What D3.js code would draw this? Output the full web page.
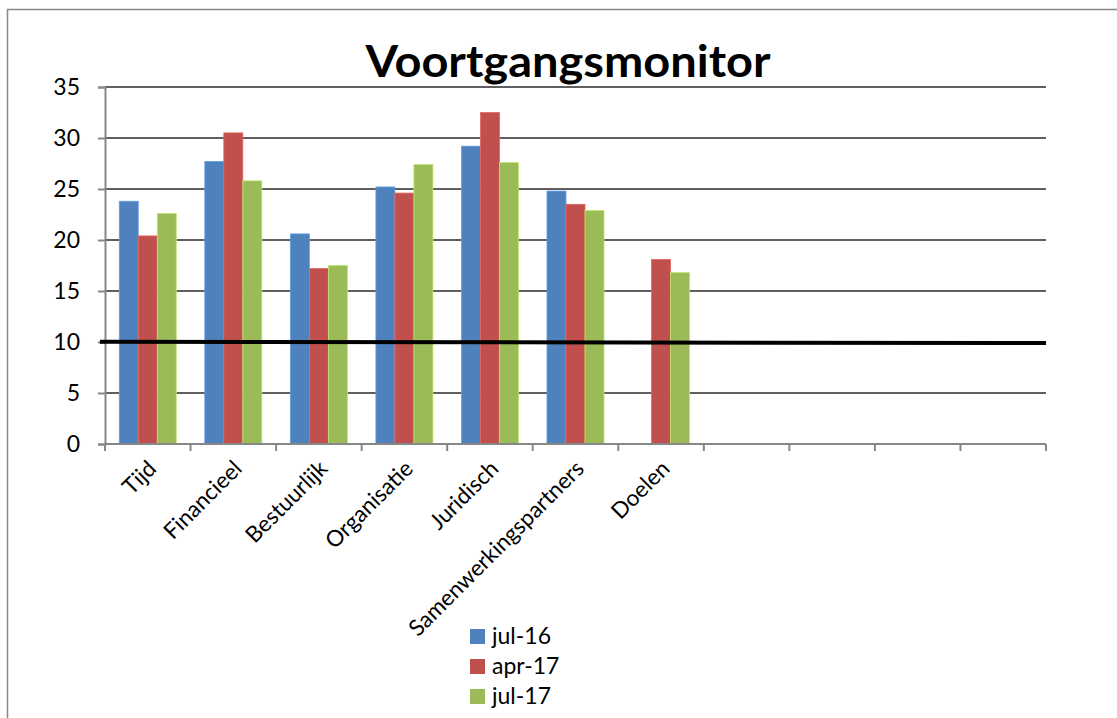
<html lang="nl">
<head>
    <meta charset="utf-8">
    <title>Voortgangsmonitor</title>
    <script src="https://cdn.jsdelivr.net/npm/d3@7"></script>
    <style>
        body { margin: 0; background: #fff; }
        text { font-family: Lato, "Open Sans", sans-serif; fill: #000; }
    </style>
</head>
<body>
<script>
    // categories (last four slots are empty in the original sheet)
    var categories = ["Tijd", "Financieel", "Bestuurlijk", "Organisatie", "Juridisch",
                      "Samenwerkingspartners", "Doelen", "", "", "", ""];
    var seriesNames = ["jul-16", "apr-17", "jul-17"];
    var jul16 = [23.8, 27.7, 20.6, 25.2, 29.2, 24.8, null];
    var apr17 = [20.4, 30.5, 17.2, 24.6, 32.5, 23.5, 18.1];
    var jul17 = [22.6, 25.8, 17.5, 27.4, 27.6, 22.9, 16.8];
    var yTicks = [0, 5, 10, 15, 20, 25, 30, 35];
    var norm = [10.02, 9.9];   // hand-drawn norm line, left and right end

    var colors = ["#4F81BD", "#C0504D", "#9BBB59"];
    var w = 1117, h = 718;
    var plotLeft = 105, plotRight = 1046, plotTop = 87, plotBottom = 444;

    var svg = d3.select("body").append("svg")
            .attr("width", w)
            .attr("height", h);

    // chart border
    svg.append("rect")
            .attr("x", 7.5).attr("y", 9.5)
            .attr("width", 1130).attr("height", 730)
            .attr("fill", "none")
            .attr("stroke", "#888")
            .attr("stroke-width", 1.5);

    var x = d3.scaleBand().domain(d3.range(categories.length)).range([plotLeft, plotRight]);
    var xInner = d3.scaleBand().domain(d3.range(3)).range([0, x.bandwidth()]).paddingOuter(0.75);
    var y = d3.scaleLinear().domain([0, 35]).range([plotBottom, plotTop]);

    // gridlines
    svg.append("g").selectAll("line")
            .data(yTicks.filter(function(d){ return d > 0; }))
            .enter().append("line")
            .attr("x1", plotLeft).attr("x2", plotRight)
            .attr("y1", function(d){ return y(d); })
            .attr("y2", function(d){ return y(d); })
            .attr("stroke", "#5f5f5f")
            .attr("stroke-width", 2);

    // bars
    var series = [jul16, apr17, jul17];
    series.forEach(function(vals, s) {
        svg.append("g").selectAll("rect")
                .data(vals)
                .enter().append("rect")
                .filter(function(d){ return d !== null; })
                .attr("x", function(d, i){ return x(i) + xInner(s); })
                .attr("y", function(d){ return y(d); })
                .attr("width", xInner.bandwidth())
                .attr("height", function(d){ return plotBottom - y(d); })
                .attr("fill", colors[s])
                .attr("stroke", d3.color(colors[s]).brighter(0.6))
                .attr("stroke-width", 0.8);
    });

    // y axis
    var yAxis = d3.axisLeft(y).tickValues(yTicks).tickSize(7).tickPadding(18);
    var gy = svg.append("g").attr("transform", "translate(" + plotLeft + ",0)").call(yAxis);
    gy.select(".domain").attr("stroke", "#878787").attr("stroke-width", 2);
    gy.selectAll(".tick line").attr("stroke", "#878787").attr("stroke-width", 2);
    gy.selectAll("text").attr("font-size", "23px").attr("fill", "#000")
            .style("font-family", "Lato, sans-serif");

    // x axis
    var gx = svg.append("g").attr("transform", "translate(0," + plotBottom + ")");
    gx.append("line")
            .attr("x1", plotLeft).attr("x2", plotRight)
            .attr("stroke", "#878787").attr("stroke-width", 2);
    gx.selectAll("line.tk")
            .data(d3.range(categories.length + 1))
            .enter().append("line")
            .attr("class", "tk")
            .attr("x1", function(i){ return plotLeft + i * x.step(); })
            .attr("x2", function(i){ return plotLeft + i * x.step(); })
            .attr("y1", 0).attr("y2", 7)
            .attr("stroke", "#878787").attr("stroke-width", 2);
    gx.selectAll("text")
            .data(categories)
            .enter().append("text")
            .text(function(d){ return d; })
            .attr("text-anchor", "end")
            .attr("font-size", "22.5px")
            .attr("transform", function(d, i){
                return "translate(" + (x(i) + x.bandwidth() / 2 + 10) + ",26) rotate(-45)";
            });

    // norm line
    svg.append("line")
            .attr("x1", 100).attr("x2", plotRight)
            .attr("y1", y(norm[0])).attr("y2", y(norm[1]))
            .attr("stroke", "#000")
            .attr("stroke-width", 4);

    // title
    svg.append("text")
            .text("Voortgangsmonitor")
            .attr("x", 568).attr("y", 77)
            .attr("text-anchor", "middle")
            .attr("font-size", "44px")
            .attr("font-weight", "bold")
            .attr("textLength", 405)
            .attr("lengthAdjust", "spacingAndGlyphs");

    // legend
    var lg = svg.append("g").selectAll("g")
            .data(seriesNames)
            .enter().append("g")
            .attr("transform", function(d, i){ return "translate(470," + (629 + i * 30) + ")"; });
    lg.append("rect")
            .attr("width", 15).attr("height", 15)
            .attr("fill", function(d, i){ return colors[i]; });
    lg.append("text")
            .text(function(d){ return d; })
            .attr("x", 22).attr("y", 15)
            .attr("font-size", "23px");
</script>
</body>
</html>
